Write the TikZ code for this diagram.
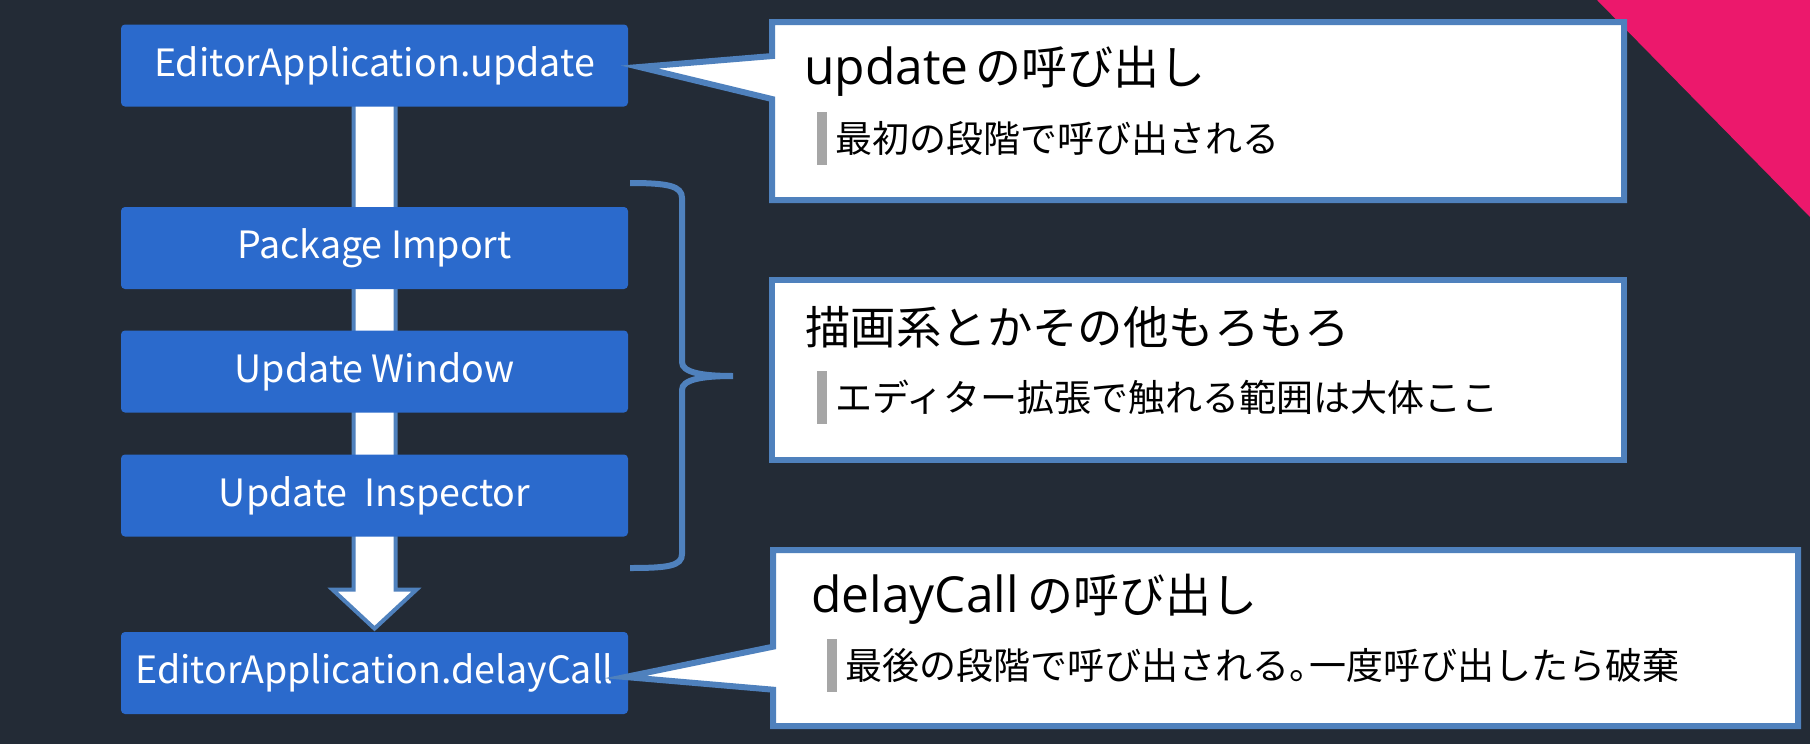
\documentclass[tikz,border=0pt]{standalone}
\usepackage{fontspec}
\setmainfont{Noto Sans CJK JP}
\newfontfamily\latinf[Scale=1.08]{Open Sans}
\definecolor{slidebg}{RGB}{35,43,54}
\definecolor{slidepink}{RGB}{236,24,108}
\definecolor{stageblue}{RGB}{43,106,204}
\definecolor{edgeblue}{RGB}{79,129,189}
\definecolor{bargray}{RGB}{166,166,166}
\usetikzlibrary{calc,shapes.callouts,backgrounds}
\newcommand{\subbar}{{\color{bargray}\rule[-6.25pt]{5pt}{26.5pt}}\hspace{4pt}}

\begin{document}
\begin{tikzpicture}[x=0.5pt, y=-0.5pt,
    stagebox/.style={rectangle, rounded corners=2pt, fill=stageblue, text=white,
                     minimum width=253.5pt, minimum height=41pt, inner sep=0pt,
                     font=\fontsize{18.8}{23}\selectfont},
    notebox/.style={rectangle callout, draw=edgeblue, fill=white, line width=3pt,
                    inner sep=0pt, anchor=north west, callout pointer width=21.5pt},
    plainnote/.style={rectangle, draw=edgeblue, fill=white, line width=3pt,
                      inner sep=0pt, anchor=north west},
    headtext/.style={anchor=base west, inner sep=0pt, font=\fontsize{23}{27}\selectfont},
    subtext/.style={anchor=base west, inner sep=0pt, font=\fontsize{18.5}{22}\selectfont},
    flow/.style={draw=edgeblue, fill=white, line width=2pt},
    bracket/.style={draw=edgeblue, line width=3pt}
  ]
  \useasboundingbox (0,0) rectangle (1810,744);

  \node[stagebox] (upd) at (374.5,65.5) {EditorApplication.update};
  \node[stagebox] (pkg) at (374.5,248) {Package Import};
  \node[stagebox] (win) at (374.5,371.5) {Update Window};
  \node[stagebox] (insp) at (374.5,495.5) {Update\ \ Inspector};
  \node[stagebox] (dly) at (374.5,673) {EditorApplication.delayCall};

  \node[notebox, minimum width=426pt, minimum height=89pt,
        callout absolute pointer={($(upd.east)+(11,1.5)$)}] (first) at (769,19) {};
  \node[headtext] (firsthead) at (804,84) {{\latinf update}\hspace{3.5pt}の呼び出し};
  \node[subtext] (firstsub) at (817,152) {\subbar 最初の段階で呼び出される};

  \node[plainnote, minimum width=426pt, minimum height=90pt] (mid) at (769,277) {};
  \node[headtext, font=\fontsize{22.7}{27}\selectfont] (midhead) at (805,344) {描画系とかその他もろもろ};
  \node[subtext] (midsub) at (817,411) {\subbar エディター拡張で触れる範囲は大体ここ};

  \node[notebox, minimum width=512.5pt, minimum height=88pt,
        callout absolute pointer={($(dly.east)+(-3,4)$)}] (last) at (770,547) {};
  \node[headtext] (lasthead) at (811,612) {{\latinf delayCall}\hspace{4pt}の呼び出し};
  \node[subtext] (lastsub) at (827,679) {\subbar 最後の段階で呼び出される。\hspace{-0.45em}一度呼び出したら破棄};

  \draw[bracket] (630,183) .. controls (668,183) and (682,186) .. (682,198) -- (682,362)
    .. controls (682,372) and (700,376) .. (733,376)
    .. controls (700,376) and (682,380) .. (682,390) -- (682,554)
    .. controls (682,566) and (668,568) .. (630,568);

  \begin{scope}[on background layer]
    \fill[slidebg] (0,0) rectangle (1810,744);
    \fill[slidepink] (1597,0) -- (1810,0) -- (1810,217) -- cycle;
    \draw[flow] ($(upd.south)+(-21,-10)$) -- ($(dly.north)+(-21,-42)$)
      -- ($(dly.north)+(-42,-42)$) -- ($(dly.north)+(0,-3)$)
      -- ($(dly.north)+(42,-42)$) -- ($(dly.north)+(21,-42)$)
      -- ($(upd.south)+(21,-10)$) -- cycle;
  \end{scope}
\end{tikzpicture}
\end{document}
